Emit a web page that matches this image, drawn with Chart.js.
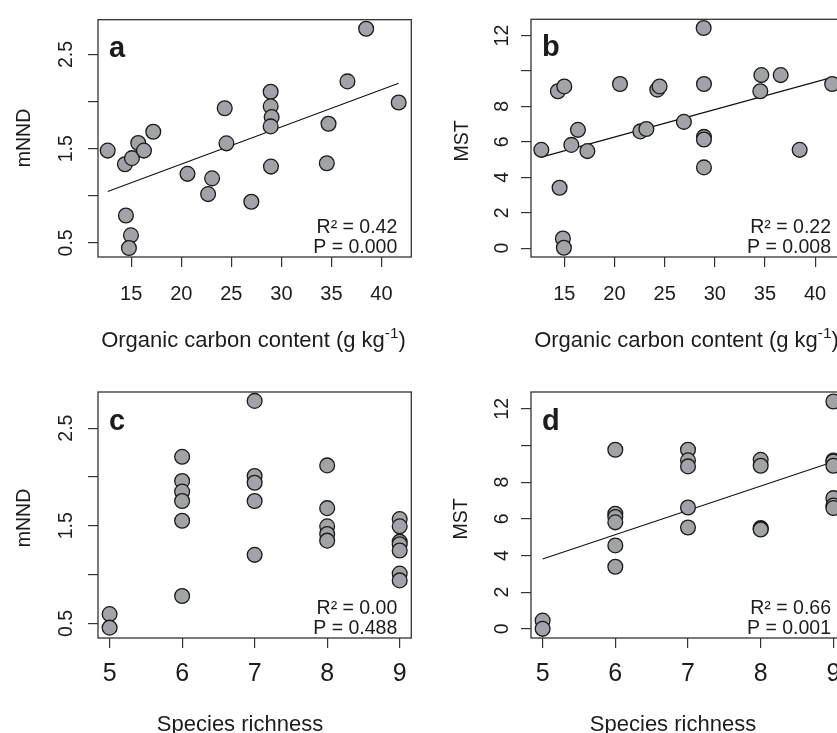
<!DOCTYPE html>
<html>
<head>
<meta charset="utf-8">
<script src="https://cdn.jsdelivr.net/npm/chart.js@4.4.1/dist/chart.umd.min.js"></script>
<style>
  html, body { margin: 0; padding: 0; background: #fff; overflow: hidden; }
  body { width: 837px; height: 733px; position: relative; }
  .panel { position: absolute; }
  canvas { display: block; }
</style>
</head>
<body>
<div class="panel" style="left:0;top:0"><canvas id="chartA" width="420" height="360"></canvas></div>
<div class="panel" style="left:420px;top:0"><canvas id="chartB" width="440" height="360"></canvas></div>
<div class="panel" style="left:0;top:360px"><canvas id="chartC" width="420" height="400"></canvas></div>
<div class="panel" style="left:420px;top:360px"><canvas id="chartD" width="440" height="400"></canvas></div>
<script>
var FONT = '"Liberation Sans", Arial, Helvetica, sans-serif';

// a: organic carbon vs mNND
var carbonA = [12.65, 14.37, 15.07, 15.7, 16.27, 17.2, 14.47, 14.97, 14.77, 20.62, 23.08, 22.68, 24.34,
               24.51, 27.0, 28.93, 28.93, 29.03, 28.93, 28.96, 34.71, 34.54, 36.6, 38.47, 41.72];
var mnndA = [1.48, 1.335, 1.40, 1.56, 1.48, 1.68, 0.79, 0.58, 0.446, 1.233, 1.185, 1.018, 1.93,
             1.557, 0.937, 2.105, 1.95, 1.836, 1.737, 1.31, 1.765, 1.346, 2.215, 2.774, 1.99];
var fitXA = [12.65, 41.72];
var fitYA = [1.046, 2.194];

// b: organic carbon vs MST
var carbonB = [12.71, 14.53, 14.36, 15.0, 14.86, 14.96, 15.7, 16.36, 17.3, 20.55, 22.58, 23.18, 24.27,
               24.5, 26.92, 28.89, 28.92, 28.92, 28.92, 28.92, 34.54, 34.64, 36.57, 38.46, 41.7];
var mstB = [5.55, 3.41, 8.86, 9.13, 0.545, 0.02, 5.83, 6.68, 5.48, 9.27, 6.59, 6.73, 8.95,
            9.13, 7.13, 12.43, 9.27, 6.28, 6.13, 4.56, 8.86, 9.77, 9.77, 5.55, 9.27];
var fitXB = [12.71, 41.7];
var fitYB = [5.14, 9.64];

// c: species richness vs mNND
var richC = [5, 5, 6, 6, 6, 6, 6, 6, 7, 7, 7, 7, 7, 8, 8, 8, 8, 8, 9, 9, 9, 9, 9, 9, 9];
var mnndC = [0.595, 0.456, 2.206, 1.958, 1.85, 1.754, 1.551, 0.78, 2.779, 2.009, 1.94, 1.754, 1.202,
             2.118, 1.68, 1.494, 1.415, 1.347, 1.568, 1.494, 1.337, 1.31, 1.246, 1.01, 0.94];

// d: species richness vs MST
var richD = [5, 5, 6, 6, 6, 6, 6, 6, 7, 7, 7, 7, 7, 8, 8, 8, 8, 8, 9, 9, 9, 9, 9, 9, 9];
var mstD = [0.45, 0.0, 9.77, 6.28, 6.1, 5.81, 4.55, 3.39, 9.77, 9.19, 8.86, 6.62, 5.53,
            9.22, 8.9, 5.5, 5.45, 5.42, 12.4, 9.18, 9.13, 8.9, 7.13, 6.73, 6.59];
var fitXD = [5, 9];
var fitYD = [3.81, 9.12];

// ticks
var carbonTicks = [15, 20, 25, 30, 35, 40];
var carbonTickLabels = ['15', '20', '25', '30', '35', '40'];
var richTicks = [5, 6, 7, 8, 9];
var richTickLabels = ['5', '6', '7', '8', '9'];
var mnndTicks = [0.5, 1, 1.5, 2, 2.5];
var mnndTickLabels = ['0.5', '', '1.5', '', '2.5'];
var mstTicks = [0, 2, 4, 6, 8, 10, 12];
var mstTickLabels = ['0', '2', '4', '6', '8', '', '12'];

// texts
var statsA = ['R\u00b2 = 0.42', 'P = 0.000'];
var statsB = ['R\u00b2 = 0.22', 'P = 0.008'];
var statsC = ['R\u00b2 = 0.00', 'P = 0.488'];
var statsD = ['R\u00b2 = 0.66', 'P = 0.001'];
var carbonTitle = ['Organic carbon content (g kg', '-1', ')'];
var richTitle = ['Species richness', '', ''];

function toPoints(xs, ys) {
    return xs.map(function (x, i) { return { x: x, y: ys[i] }; });
}

var panelText = {
    id: 'panelText',
    afterDraw: function (chart, args, o) {
        var ctx = chart.ctx;
        var a = chart.chartArea;
        ctx.save();
        ctx.strokeStyle = '#333';
        ctx.lineWidth = 1.3;
        ctx.strokeRect(a.left, a.top, a.right - a.left, a.bottom - a.top);

        ctx.fillStyle = '#1c1c1c';
        ctx.textBaseline = 'alphabetic';
        ctx.textAlign = 'left';
        ctx.font = 'bold 29px ' + FONT;
        ctx.fillText(o.letter, a.left + 11, a.top + o.letterDy);

        ctx.font = '19.5px ' + FONT;
        ctx.textAlign = 'right';
        ctx.fillText(o.stats[0], a.right - 14, a.bottom - 24);
        ctx.fillText(o.stats[1], a.right - 14, a.bottom - 4.5);

        // x title, with superscript part
        ctx.textAlign = 'left';
        ctx.font = '22px ' + FONT;
        var w1 = ctx.measureText(o.xTitle[0]).width;
        var w3 = ctx.measureText(o.xTitle[2]).width;
        ctx.font = '15.4px ' + FONT;
        var w2 = ctx.measureText(o.xTitle[1]).width;
        var x0 = a.left + o.xTitleDx - (w1 + w2 + w3) / 2;
        var yb = a.bottom + o.xTitleDy;
        ctx.font = '22px ' + FONT;
        ctx.fillText(o.xTitle[0], x0, yb);
        ctx.fillText(o.xTitle[2], x0 + w1 + w2, yb);
        ctx.font = '15.4px ' + FONT;
        ctx.fillText(o.xTitle[1], x0 + w1, yb - 8.8);

        // y title
        ctx.translate(o.yTitleX, o.yTitleY);
        ctx.rotate(-Math.PI / 2);
        ctx.font = '19.5px ' + FONT;
        ctx.textAlign = 'center';
        ctx.textBaseline = 'middle';
        ctx.fillText(o.yTitle, 0, 0);
        ctx.restore();
    }
};

function makePanel(id, cfg) {
    var datasets = [{
        data: toPoints(cfg.xs, cfg.ys),
        pointRadius: 7.4,
        pointHoverRadius: 7.4,
        pointBackgroundColor: '#a2a3a7',
        pointBorderColor: '#1a1a1a',
        pointBorderWidth: 1.3,
        showLine: false,
        clip: false,
        order: 0
    }];
    if (cfg.fitX) {
        datasets.push({
            data: toPoints(cfg.fitX, cfg.fitY),
            showLine: true,
            borderColor: '#111',
            borderWidth: 1.1,
            pointRadius: 0,
            fill: false,
            order: 1
        });
    }
    return new Chart(document.getElementById(id), {
        type: 'scatter',
        data: { datasets: datasets },
        plugins: [panelText],
        options: {
            responsive: false,
            animation: false,
            devicePixelRatio: 1,
            events: [],
            layout: { padding: cfg.pad },
            plugins: {
                legend: { display: false },
                tooltip: { enabled: false },
                panelText: {
                    letter: cfg.letter,
                    letterDy: cfg.letterDy,
                    stats: cfg.stats,
                    xTitle: cfg.xTitle,
                    xTitleDx: cfg.xTitleDx,
                    xTitleDy: cfg.xTitleDy,
                    yTitle: cfg.yTitle,
                    yTitleX: cfg.yTitleX,
                    yTitleY: cfg.yTitleY
                }
            },
            scales: {
                x: {
                    type: 'linear',
                    min: cfg.xMin,
                    max: cfg.xMax,
                    bounds: 'data',
                    afterBuildTicks: function (s) {
                        s.ticks = cfg.xTicks.map(function (v) { return { value: v }; });
                    },
                    afterFit: function (s) { s.height = cfg.xAxisH; },
                    grid: { drawOnChartArea: false, drawTicks: true, tickLength: 10, color: '#333', lineWidth: 1.2 },
                    border: { display: false },
                    ticks: {
                        font: { family: FONT, size: cfg.xTickSize, lineHeight: 1.2 },
                        color: '#1c1c1c',
                        padding: cfg.xTickPad,
                        autoSkip: false,
                        maxRotation: 0,
                        callback: function (v, i) { return cfg.xLabels[i]; }
                    }
                },
                y: {
                    type: 'linear',
                    min: cfg.yMin,
                    max: cfg.yMax,
                    bounds: 'data',
                    afterBuildTicks: function (s) {
                        s.ticks = cfg.yTicks.map(function (v) { return { value: v }; });
                    },
                    afterFit: function (s) { s.width = cfg.yAxisW; },
                    grid: { drawOnChartArea: false, drawTicks: true, tickLength: 10, color: '#333', lineWidth: 1.2 },
                    border: { display: false },
                    ticks: {
                        font: { family: FONT, size: 19.5, lineHeight: 1.2 },
                        color: '#1c1c1c',
                        padding: cfg.yTickPad,
                        autoSkip: false,
                        minRotation: 90,
                        maxRotation: 90,
                        crossAlign: 'center',
                        callback: function (v, i) { return cfg.yLabels[i]; }
                    }
                }
            }
        }
    });
}

makePanel('chartA', {
    xs: carbonA, ys: mnndA, fitX: fitXA, fitY: fitYA,
    xMin: 11.68, xMax: 42.98, yMin: 0.35, yMax: 2.87,
    xTicks: carbonTicks, xLabels: carbonTickLabels, yTicks: mnndTicks, yLabels: mnndTickLabels,
    pad: { left: 0, top: 10, right: 8, bottom: 0 }, xAxisH: 103, yAxisW: 98,
    xTickSize: 20, xTickPad: 15, yTickPad: 8,
    letter: 'a', letterDy: 37, stats: statsA,
    xTitle: carbonTitle, xTitleDx: 155.5, xTitleDy: 89.5,
    yTitle: 'mNND', yTitleX: 24.5, yTitleY: 138
});

makePanel('chartB', {
    xs: carbonB, ys: mstB, fitX: fitXB, fitY: fitYB,
    xMin: 11.68, xMax: 42.98, yMin: -0.5, yMax: 12.92,
    xTicks: carbonTicks, xLabels: carbonTickLabels, yTicks: mstTicks, yLabels: mstTickLabels,
    pad: { left: 0, top: 10, right: 15, bottom: 0 }, xAxisH: 103, yAxisW: 111,
    xTickSize: 20, xTickPad: 15, yTickPad: 7.6,
    letter: 'b', letterDy: 37, stats: statsB,
    xTitle: carbonTitle, xTitleDx: 155.5, xTitleDy: 89.5,
    yTitle: 'MST', yTitleX: 43, yTitleY: 141
});

makePanel('chartC', {
    xs: richC, ys: mnndC,
    xMin: 4.84, xMax: 9.16, yMin: 0.35, yMax: 2.87,
    xTicks: richTicks, xLabels: richTickLabels, yTicks: mnndTicks, yLabels: mnndTickLabels,
    pad: { left: 0, top: 32, right: 8, bottom: 0 }, xAxisH: 122, yAxisW: 98,
    xTickSize: 25, xTickPad: 11, yTickPad: 8,
    letter: 'c', letterDy: 38, stats: statsC,
    xTitle: richTitle, xTitleDx: 142, xTitleDy: 92.5,
    yTitle: 'mNND', yTitleX: 24.5, yTitleY: 158
});

makePanel('chartD', {
    xs: richD, ys: mstD, fitX: fitXD, fitY: fitYD,
    xMin: 4.84, xMax: 9.16, yMin: -0.5, yMax: 12.92,
    xTicks: richTicks, xLabels: richTickLabels, yTicks: mstTicks, yLabels: mstTickLabels,
    pad: { left: 0, top: 32, right: 15, bottom: 0 }, xAxisH: 122, yAxisW: 111,
    xTickSize: 25, xTickPad: 11, yTickPad: 7.6,
    letter: 'd', letterDy: 38, stats: statsD,
    xTitle: richTitle, xTitleDx: 142, xTitleDy: 92.5,
    yTitle: 'MST', yTitleX: 42, yTitleY: 159
});
</script>
</body>
</html>
